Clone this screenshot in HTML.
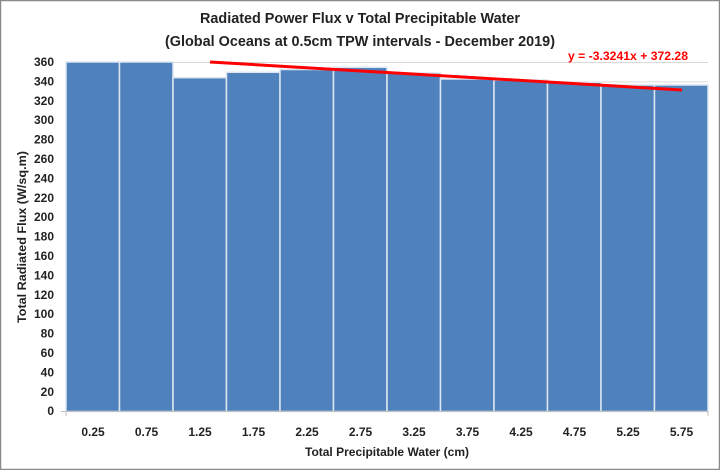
<!DOCTYPE html>
<html><head><style>body{margin:0;background:#fff}svg{display:block}text{font-family:"Liberation Sans",sans-serif;font-weight:bold}</style></head>
<body>
<svg width="720" height="470" viewBox="0 0 720 470" xmlns="http://www.w3.org/2000/svg">
<rect x="0.5" y="0.5" width="719" height="469" fill="#fff" stroke="#8a8a8a" stroke-width="1.5"/>
<text x="360" y="23" font-size="14.5" text-anchor="middle" textLength="320" lengthAdjust="spacingAndGlyphs" fill="#222">Radiated Power Flux v Total Precipitable Water</text>
<text x="360" y="46" font-size="14.5" text-anchor="middle" textLength="390" lengthAdjust="spacingAndGlyphs" fill="#222">(Global Oceans at 0.5cm TPW intervals - December 2019)</text>
<g stroke="#d9d9d9" stroke-width="1">
<line x1="66" x2="708" y1="62.5" y2="62.5"/><line x1="66" x2="708" y1="81.9" y2="81.9"/><line x1="66" x2="708" y1="101.3" y2="101.3"/><line x1="66" x2="708" y1="120.7" y2="120.7"/><line x1="66" x2="708" y1="140.1" y2="140.1"/><line x1="66" x2="708" y1="159.5" y2="159.5"/><line x1="66" x2="708" y1="178.9" y2="178.9"/><line x1="66" x2="708" y1="198.3" y2="198.3"/><line x1="66" x2="708" y1="217.7" y2="217.7"/><line x1="66" x2="708" y1="237.1" y2="237.1"/><line x1="66" x2="708" y1="256.5" y2="256.5"/><line x1="66" x2="708" y1="275.9" y2="275.9"/><line x1="66" x2="708" y1="295.3" y2="295.3"/><line x1="66" x2="708" y1="314.7" y2="314.7"/><line x1="66" x2="708" y1="334.1" y2="334.1"/><line x1="66" x2="708" y1="353.5" y2="353.5"/><line x1="66" x2="708" y1="372.9" y2="372.9"/><line x1="66" x2="708" y1="392.3" y2="392.3"/>
</g>
<g fill="#4f81bd" stroke="#dce6f2" stroke-width="1.5">
<rect x="66" y="62" width="53.5" height="349.5"/>
<rect x="119.5" y="62" width="53.5" height="349.5"/>
<rect x="173" y="77.7" width="53.5" height="333.8"/>
<rect x="226.5" y="72.3" width="53.5" height="339.2"/>
<rect x="280" y="69.5" width="53.5" height="342"/>
<rect x="333.5" y="67.3" width="53.5" height="344.2"/>
<rect x="387" y="73" width="53.5" height="338.5"/>
<rect x="440.5" y="79" width="53.5" height="332.5"/>
<rect x="494" y="80" width="53.5" height="331.5"/>
<rect x="547.5" y="82.3" width="53.5" height="329.2"/>
<rect x="601" y="85" width="53.5" height="326.5"/>
<rect x="654.5" y="85" width="53.5" height="326.5"/>
</g>
<line x1="61" x2="708" y1="411.5" y2="411.5" stroke="#bfbfbf"/>
<g stroke="#bfbfbf"><line x1="66" x2="66" y1="411" y2="416"/><line x1="708" x2="708" y1="411" y2="416"/></g>
<line x1="210" y1="62" x2="682" y2="90" stroke="#ff0000" stroke-width="3"/>
<text x="688" y="60" font-size="12" text-anchor="end" fill="#ff0000" textLength="120" lengthAdjust="spacingAndGlyphs">y = -3.3241x + 372.28</text>
<g font-size="12" text-anchor="end" fill="#222">
<text x="54" y="66">360</text><text x="54" y="85.4">340</text><text x="54" y="104.8">320</text><text x="54" y="124.2">300</text><text x="54" y="143.6">280</text><text x="54" y="163">260</text><text x="54" y="182.4">240</text><text x="54" y="201.8">220</text><text x="54" y="221.2">200</text><text x="54" y="240.6">180</text><text x="54" y="260">160</text><text x="54" y="279.4">140</text><text x="54" y="298.8">120</text><text x="54" y="318.2">100</text><text x="54" y="337.6">80</text><text x="54" y="357">60</text><text x="54" y="376.4">40</text><text x="54" y="395.8">20</text><text x="54" y="415.2">0</text>
</g>
<g font-size="12" text-anchor="middle" fill="#222">
<text x="93" y="436">0.25</text><text x="146.5" y="436">0.75</text><text x="200" y="436">1.25</text><text x="253.5" y="436">1.75</text><text x="307" y="436">2.25</text><text x="360.5" y="436">2.75</text><text x="414" y="436">3.25</text><text x="467.5" y="436">3.75</text><text x="521" y="436">4.25</text><text x="574.5" y="436">4.75</text><text x="628" y="436">5.25</text><text x="681.5" y="436">5.75</text>
</g>
<text x="387" y="456" font-size="12" text-anchor="middle" fill="#222" textLength="164" lengthAdjust="spacingAndGlyphs">Total Precipitable Water (cm)</text>
<text transform="translate(26,237) rotate(-90)" font-size="12" text-anchor="middle" fill="#222" textLength="172" lengthAdjust="spacingAndGlyphs">Total Radiated Flux (W/sq.m)</text>
</svg>
</body></html>
